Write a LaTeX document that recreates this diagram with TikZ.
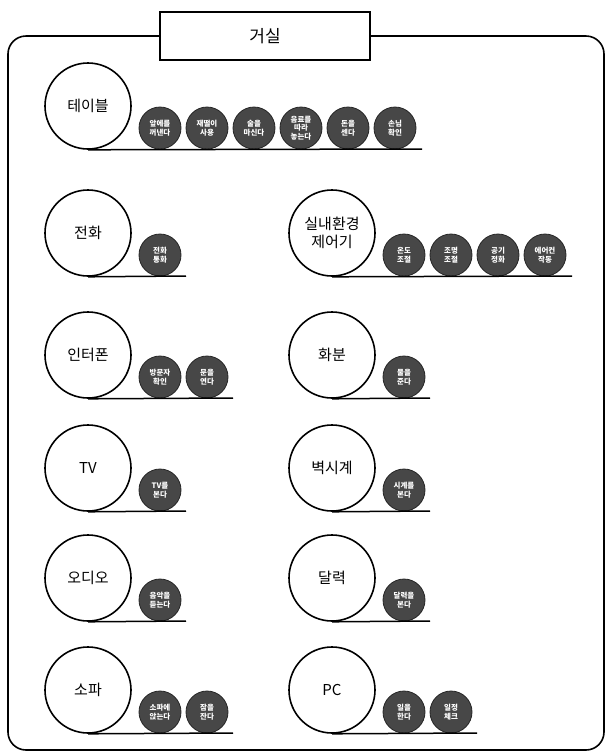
\documentclass[tikz,border=0pt]{standalone}
\usepackage{fontspec}
\newfontfamily\kr{Noto Sans CJK KR}
\begin{document}
\begin{tikzpicture}[x=1pt,y=-1pt,
  frame/.style={draw, line width=1.6pt, rounded corners=18pt},
  titlebox/.style={draw, fill=white, line width=1.4pt, minimum width=210pt, minimum height=48pt, font=\kr\fontsize{17}{19}\selectfont},
  place/.style={circle, draw, line width=1.6pt, minimum size=86pt, inner sep=0pt, align=center, font=\kr\fontsize{15}{18}\selectfont},
  act/.style={circle, fill=black!72, draw=black!85, line width=0.8pt, minimum size=42pt, inner sep=0pt, align=center, text=white, font=\kr\bfseries\fontsize{7.5}{8.5}\selectfont},
  base/.style={line width=1.5pt}]
\useasboundingbox (0,0) rectangle (610,756);
% room outline and title
\draw[frame] (8,36) rectangle (604,750);
\node[titlebox] (room) at (265,36) {거실};

% table
\node[place] (table) at (88,106) {테이블};
\node[act] (t1) at (160,128) {앞에를\\꺼낸다};
\node[act] (t2) at (207,128) {재떨이\\사용};
\node[act] (t3) at (254,128) {술을\\마신다};
\node[act] (t4) at (301,128) {음료를\\따라\\놓는다};
\node[act] (t5) at (348,128) {돈을\\센다};
\node[act] (t6) at (395,128) {손님\\확인};
\coordinate (tend) at (422,149);
\draw[base] (table.south) -- (tend);

% phone
\node[place] (phone) at (88,233) {전화};
\node[act] (p1) at (160,255) {전화\\통화};
\coordinate (pend) at (186,276);
\draw[base] (phone.south) -- (pend);

% climate controller
\node[place] (ctrl) at (332,233) {실내환경\\제어기};
\node[act] (c1) at (404,255) {온도\\조절};
\node[act] (c2) at (451,255) {조명\\조절};
\node[act] (c3) at (498,255) {공기\\정화};
\node[act] (c4) at (545,255) {에어컨\\작동};
\coordinate (cend) at (572,276);
\draw[base] (ctrl.south) -- (cend);

% intercom
\node[place] (icom) at (88,355) {인터폰};
\node[act] (i1) at (160,377) {방문자\\확인};
\node[act] (i2) at (207,377) {문을\\연다};
\coordinate (iend) at (233,398);
\draw[base] (icom.south) -- (iend);

% flower pot
\node[place] (pot) at (332,355) {화분};
\node[act] (f1) at (404,377) {물을\\준다};
\coordinate (fend) at (430,398);
\draw[base] (pot.south) -- (fend);

% TV
\node[place] (tv) at (88,468) {TV};
\node[act] (v1) at (160,490) {TV를\\본다};
\coordinate (vend) at (186,511);
\draw[base] (tv.south) -- (vend);

% wall clock
\node[place] (clock) at (332,468) {벽시계};
\node[act] (k1) at (404,490) {시계를\\본다};
\coordinate (kend) at (430,511);
\draw[base] (clock.south) -- (kend);

% audio
\node[place] (audio) at (88,578) {오디오};
\node[act] (a1) at (160,600) {음악을\\듣는다};
\coordinate (aend) at (186,621);
\draw[base] (audio.south) -- (aend);

% calendar
\node[place] (cal) at (332,578) {달력};
\node[act] (d1) at (404,600) {달력을\\본다};
\coordinate (dend) at (430,621);
\draw[base] (cal.south) -- (dend);

% sofa
\node[place] (sofa) at (88,690) {소파};
\node[act] (s1) at (160,712) {소파에\\앉는다};
\node[act] (s2) at (207,712) {잠을\\잔다};
\coordinate (send) at (233,733);
\draw[base] (sofa.south) -- (send);

% PC
\node[place] (pc) at (332,690) {PC};
\node[act] (q1) at (404,712) {일을\\한다};
\node[act] (q2) at (451,712) {일정\\체크};
\coordinate (qend) at (477,733);
\draw[base] (pc.south) -- (qend);
\end{tikzpicture}
\end{document}
